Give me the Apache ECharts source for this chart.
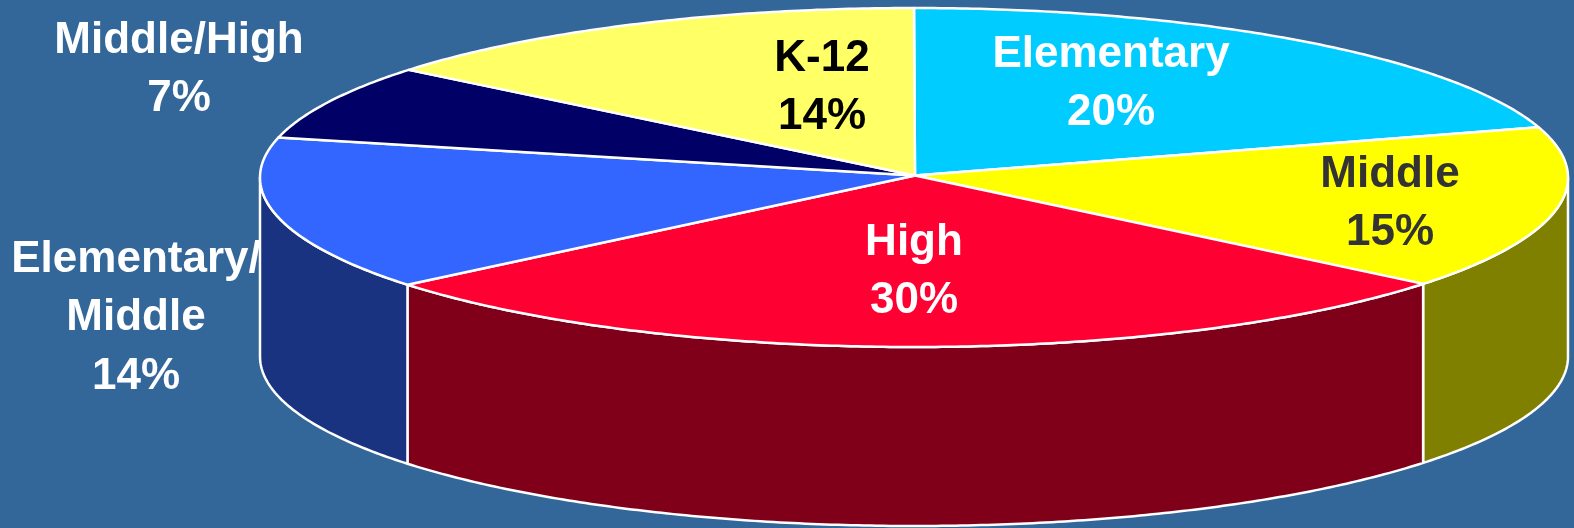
<!DOCTYPE html>
<html>
<head>
<meta charset="utf-8">
<style>html,body{margin:0;padding:0;background:#336699;}#c{width:1574px;height:528px;}</style>
<script src="https://cdn.jsdelivr.net/npm/echarts@6/dist/echarts.min.js"></script>
</head>
<body>
<div id="c"></div>
<script>
// Data: names, printed percentages, and the share of the drawn ellipse each slice occupies
const categories = ['Elementary', 'Middle', 'High', 'Elementary/\nMiddle', 'Middle/High', 'K-12'];
const percentLabels = [20, 15, 30, 14, 7, 14];
const drawnShares = [20.2, 15.6, 28.3, 14.7, 7.15, 14.05];

// Styles
const topColors = ['#00CCFF', '#FFFF00', '#FF0033', '#3366FF', '#000066', '#FFFF66'];
const wallColors = ['#006680', '#808000', '#80001A', '#1A3380', '#000033', '#808033'];
const textColors = ['#FFFFFF', '#333333', '#FFFFFF', '#FFFFFF', '#FFFFFF', '#000000'];

// Layout
const labelCentres = [[1111, 84], [1390, 204], [914, 272], [136, 318], [179, 70], [822, 88]];
const pie = { cx: 914, cy: 177.5, rx: 654, ry: 169.5, hubX: 915, hubY: 175.5, depth: 179 };

const sum = drawnShares.reduce((a, b) => a + b, 0);
const starts = [];
drawnShares.reduce((acc, v, i) => { starts[i] = acc; return acc + v; }, 0);
const toAngle = s => s / sum * Math.PI * 2;
const rimPoint = (t, dy) => [pie.cx + pie.rx * Math.sin(t), pie.cy - pie.ry * Math.cos(t) + (dy || 0)];
function arc(a, b, dy) {
  const n = Math.max(2, Math.ceil(Math.abs(b - a) / 0.01));
  const pts = [];
  for (let i = 0; i <= n; i++) pts.push(rimPoint(a + (b - a) * i / n, dy));
  return pts;
}
const stroke = { stroke: '#FFFFFF', lineWidth: 2.5, lineJoin: 'round' };

function renderWall(params, api) {
  const i = api.value(0);
  const a = Math.max(toAngle(starts[i]), Math.PI / 2);
  const b = Math.min(toAngle(starts[i] + drawnShares[i]), Math.PI * 1.5);
  if (b <= a) return { type: 'group', children: [] };
  const pts = arc(a, b, 0).concat(arc(b, a, pie.depth));
  return { type: 'polygon', shape: { points: pts }, style: Object.assign({ fill: wallColors[i] }, stroke) };
}
function renderTop(params, api) {
  const i = api.value(0);
  const a = toAngle(starts[i]), b = toAngle(starts[i] + drawnShares[i]);
  const pts = [[pie.hubX, pie.hubY]].concat(arc(a, b, 0));
  return { type: 'polygon', shape: { points: pts }, style: Object.assign({ fill: topColors[i] }, stroke) };
}
function renderLabel(params, api) {
  const i = api.value(0);
  return {
    type: 'text',
    style: {
      x: labelCentres[i][0], y: labelCentres[i][1],
      text: categories[i] + '\n' + percentLabels[i] + '%',
      align: 'center', verticalAlign: 'middle',
      font: 'bold 44px "Liberation Sans", Arial, sans-serif',
      lineHeight: 58.5,
      fill: textColors[i]
    }
  };
}
const rows = categories.map((c, i) => [i, percentLabels[i], c]);
const chart = echarts.init(document.getElementById('c'), null, { renderer: 'canvas' });
chart.setOption({
  backgroundColor: '#336699',
  animation: false,
  tooltip: { show: false },
  series: [
    { type: 'custom', coordinateSystem: 'none', z: 1, silent: true, data: rows, renderItem: renderWall },
    { type: 'custom', coordinateSystem: 'none', z: 2, silent: true, data: rows, renderItem: renderTop },
    { type: 'custom', coordinateSystem: 'none', z: 3, silent: true, data: rows, renderItem: renderLabel }
  ]
});
</script>
</body>
</html>
